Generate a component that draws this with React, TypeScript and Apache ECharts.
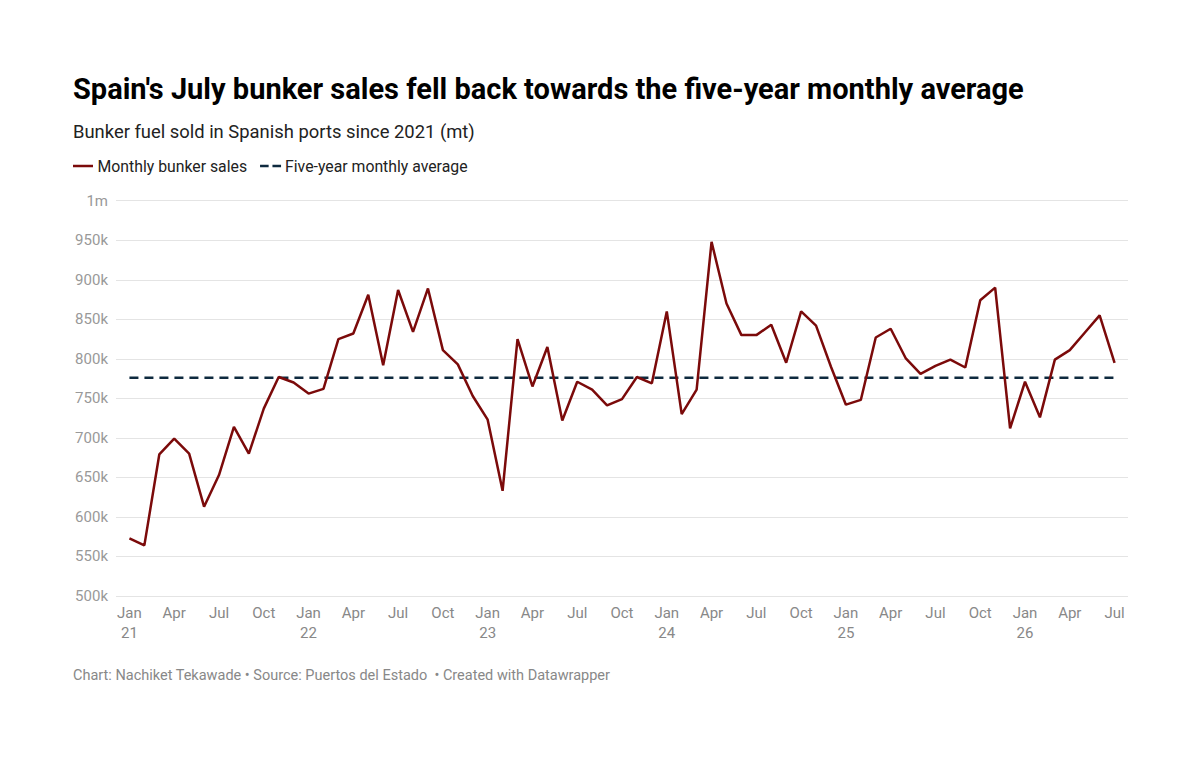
import React, { useEffect, useRef } from 'react';
import * as echarts from 'echarts';

// Months from Jan 2021 to Jul 2026
const MONTH_NAMES = ['Jan', 'Feb', 'Mar', 'Apr', 'May', 'Jun', 'Jul', 'Aug', 'Sep', 'Oct', 'Nov', 'Dec'];
const categories = Array.from({ length: 67 }, (_, i) => `${MONTH_NAMES[i % 12]} ${21 + Math.floor(i / 12)}`);

// Monthly bunker sales (mt)
const monthlySales = [
  573000, 564000, 679000, 699000, 680000, 613000, 653000, 714000, 680000, 737000, 777000, 770000,
  756000, 762000, 825000, 832000, 881000, 792000, 887000, 834000, 889000, 811000, 793000, 753000,
  723000, 633000, 825000, 765000, 815000, 722000, 771000, 761000, 741000, 749000, 777000, 769000,
  860000, 730000, 761000, 948000, 870000, 830000, 830000, 843000, 795000, 860000, 842000, 790000,
  742000, 748000, 827000, 838000, 801000, 781000, 791000, 799000, 789000, 874000, 890000, 712000,
  771000, 726000, 799000, 811000, 833000, 855000, 795000
];

// Five-year monthly average (mt)
const fiveYearAverage = 776000;

// x tick positions (every third month)
const xTickIndexes = categories.map((_, i) => i).filter((i) => i % 3 === 0);

const Y_MIN = 500000;
const Y_MAX = 1000000;
const Y_STEP = 50000;

const SALES_COLOR = '#7b0a0a';
const AVG_COLOR = '#0e2a3f';

const App = () => {
  const chartRef = useRef<HTMLDivElement>(null);

  useEffect(() => {
    document.body.style.margin = '0';
    const chart = echarts.init(chartRef.current!, null, { renderer: 'svg' });

    const salesData = monthlySales.map((v, i) => [i, v]);
    const avgData = [
      [0, fiveYearAverage],
      [categories.length - 1, fiveYearAverage]
    ];

    chart.setOption({
      animation: false,
      textStyle: { fontFamily: 'Roboto' },
      graphic: [
        {
          type: 'text',
          left: 73,
          top: 74,
          style: {
            text: "Spain's July bunker sales fell back towards the five-year monthly average",
            fontSize: 29,
            fontWeight: 'bold',
            fontFamily: 'Roboto',
            fill: '#000'
          }
        },
        {
          type: 'text',
          left: 73,
          top: 122,
          style: {
            text: 'Bunker fuel sold in Spanish ports since 2021 (mt)',
            fontSize: 18.4,
            fontFamily: 'Roboto',
            fill: '#222'
          }
        },
        {
          type: 'text',
          left: 73,
          top: 668,
          style: {
            text: 'Chart: Nachiket Tekawade • Source: Puertos del Estado  • Created with Datawrapper',
            fontSize: 14.5,
            fontFamily: 'Roboto',
            fill: '#888'
          }
        }
      ],
      legend: {
        left: 68,
        top: 153,
        itemWidth: 21,
        itemHeight: 2.5,
        itemGap: 13,
        textStyle: { fontSize: 15.8, color: '#222', fontFamily: 'Roboto', padding: [0, 0, 0, -1] },
        data: [
          { name: 'Monthly bunker sales', icon: 'path://M0,0h20v2.5h-20z', itemStyle: { color: SALES_COLOR } },
          {
            name: 'Five-year monthly average',
            icon: 'path://M0,0h9v2.5h-9z M13,0h9v2.5h-9z',
            itemStyle: { color: AVG_COLOR }
          }
        ]
      },
      grid: {
        left: 116,
        right: 72,
        top: 200.7,
        bottom: 162
      },
      xAxis: {
        type: 'value',
        min: -0.9,
        max: categories.length - 1 + 0.9,
        axisLine: { show: false },
        axisTick: { show: false },
        splitLine: { show: false },
        axisLabel: {
          customValues: xTickIndexes,
          color: '#888',
          fontSize: 15,
          lineHeight: 20,
          margin: 7,
          formatter: (v: number) => {
            const i = Math.round(v);
            const [m, y] = categories[i].split(' ');
            return m === 'Jan' ? `${m}\n${y}` : m;
          }
        }
      },
      yAxis: {
        type: 'value',
        min: Y_MIN,
        max: Y_MAX,
        interval: Y_STEP,
        axisLine: { show: false },
        axisTick: { show: false },
        axisLabel: {
          color: '#999',
          fontSize: 15,
          margin: 8,
          formatter: (v: number) => (v >= 1000000 ? `${v / 1000000}m` : `${v / 1000}k`)
        },
        splitLine: { lineStyle: { color: '#e4e4e4', width: 1 } }
      },
      series: [
        {
          name: 'Monthly bunker sales',
          type: 'line',
          data: salesData,
          symbol: 'none',
          lineStyle: { color: SALES_COLOR, width: 2.5 },
          itemStyle: { color: SALES_COLOR },
          z: 3
        },
        {
          name: 'Five-year monthly average',
          type: 'line',
          data: avgData,
          symbol: 'none',
          lineStyle: { color: AVG_COLOR, width: 2.5, type: [9, 6] },
          itemStyle: { color: AVG_COLOR },
          z: 2
        }
      ]
    });

    return () => {
      chart.dispose();
    };
  }, []);

  return <div ref={chartRef} style={{ width: 1200, height: 758 }}></div>;
};

export default App;
